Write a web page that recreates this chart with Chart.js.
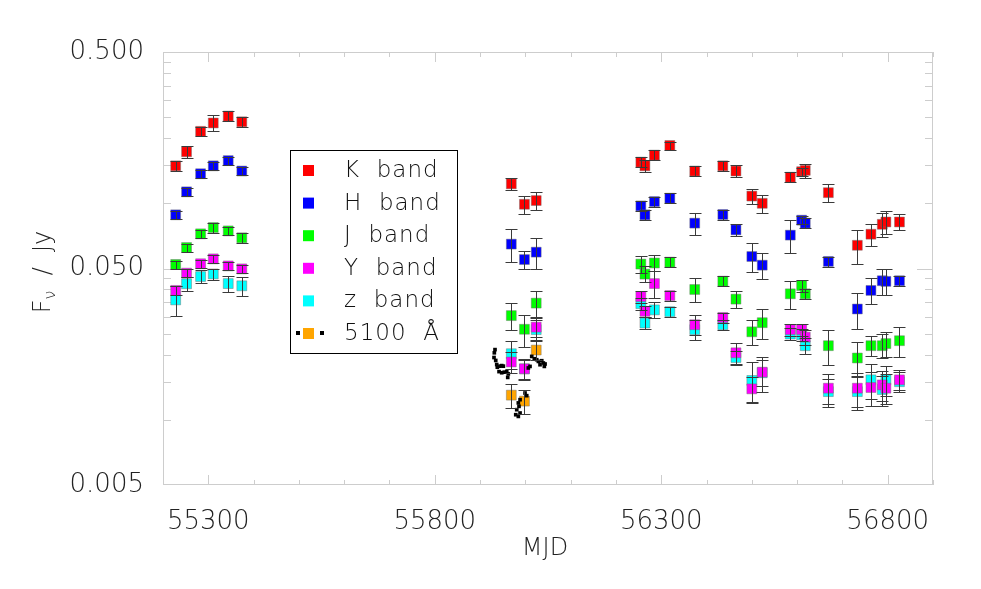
<!DOCTYPE html>
<html lang="en">
<head>
<meta charset="utf-8">
<title>NIR and optical light curves</title>
<script src="https://cdn.jsdelivr.net/npm/chart.js@4.4.0/dist/chart.umd.min.js"></script>
<style>
  html, body { margin: 0; padding: 0; background: #fff; }
  .chart-container { width: 981px; height: 589px; }
</style>
</head>
<body>
<div class="chart-container"><canvas id="lc-chart" width="981" height="589"></canvas></div>

<script>
/* NIR epochs (MJD) shared by the K, H, J, Y and z bands */
const mjdNIR = [55228, 55252, 55283, 55311, 55344, 55374,
                55969, 55998, 56024,
                56255, 56264, 56285, 56319, 56374, 56436, 56465, 56500, 56523,
                56585, 56610, 56618, 56669, 56733, 56763, 56788, 56796, 56826];

/* fluxes and errors in Jy */
const fluxK = [0.149, 0.173, 0.215, 0.235, 0.253, 0.238,
               0.123, 0.099, 0.103,
               0.155, 0.149, 0.167, 0.185, 0.141, 0.149, 0.141, 0.108, 0.100,
               0.132, 0.140, 0.142, 0.112, 0.064, 0.072, 0.080, 0.082, 0.082];
const errK  = [0.008, 0.011, 0.011, 0.020, 0.013, 0.013,
               0.008, 0.0095, 0.010,
               0.008, 0.0095, 0.009, 0.008, 0.0075, 0.008, 0.009, 0.009, 0.0095,
               0.007, 0.006, 0.0105, 0.0107, 0.0115, 0.0085, 0.010, 0.010, 0.007];

const fluxH = [0.0885, 0.113, 0.137, 0.149, 0.1575, 0.141,
               0.0648, 0.055, 0.0595,
               0.0973, 0.0885, 0.1019, 0.1056, 0.081, 0.0888, 0.0754, 0.0568, 0.0518,
               0.0713, 0.0836, 0.081, 0.0539, 0.0325, 0.0396, 0.0439, 0.0436, 0.0439];
const errH  = [0.0038, 0.0048, 0.0058, 0.0063, 0.0067, 0.006,
               0.0113, 0.0054, 0.0099,
               0.0052, 0.0047, 0.0054, 0.0056, 0.0095, 0.0047, 0.0048, 0.0085, 0.0072,
               0.0121, 0.0036, 0.0043, 0.0029, 0.0062, 0.0055, 0.0061, 0.006, 0.0023];

const fluxJ = [0.0522, 0.0625, 0.0723, 0.0773, 0.0746, 0.0693,
               0.0303, 0.0262, 0.0346,
               0.0524, 0.0471, 0.053, 0.0535, 0.040, 0.0437, 0.0361, 0.0255, 0.0281,
               0.0382, 0.0417, 0.0382, 0.022, 0.0193, 0.022, 0.022, 0.0225, 0.0232];
const errJ  = [0.0022, 0.0027, 0.0031, 0.0041, 0.0032, 0.0037,
               0.0044, 0.0044, 0.0046,
               0.0045, 0.004, 0.0045, 0.0028, 0.0051, 0.0023, 0.0031, 0.0033, 0.0045,
               0.0057, 0.0027, 0.002, 0.004, 0.0035, 0.0023, 0.0028, 0.0029, 0.0037];

const fluxY = [0.0396, 0.0476, 0.0526, 0.0554, 0.0514, 0.0498,
               0.0185, 0.0172, 0.0268,
               0.0371, 0.0317, 0.0426, 0.0375, 0.0275, 0.0297, 0.0204, 0.0139, 0.0166,
               0.0261, 0.0261, 0.0241, 0.014, 0.014, 0.0141, 0.0145, 0.014, 0.0153];
const errY  = [0.0017, 0.002, 0.0022, 0.0024, 0.0022, 0.0021,
               0.002, 0.0017, 0.0027,
               0.0024, 0.002, 0.0059, 0.002, 0.0029, 0.0016, 0.0022, 0.0018, 0.0023,
               0.0017, 0.0017, 0.002, 0.0022, 0.0025, 0.0025, 0.0023, 0.0022, 0.0016];

const fluxZ = [0.0358, 0.0425, 0.0459, 0.0472, 0.0426, 0.0416,
               0.0202, 0.0172, 0.0261,
               0.0344, 0.028, 0.0322, 0.0316, 0.0261, 0.0275, 0.0194, 0.0152, 0.0165,
               0.0249, 0.0247, 0.022, 0.0135, 0.0135, 0.0153, 0.0138, 0.0153, 0.015];
const errZ  = [0.0057, 0.003, 0.0032, 0.0028, 0.0038, 0.0042,
               0.003, 0.0019, 0.0028,
               0.0022, 0.0018, 0.0027, 0.0017, 0.0028, 0.0015, 0.0014, 0.0032, 0.003,
               0.0016, 0.0016, 0.0019, 0.002, 0.0024, 0.0028, 0.0022, 0.0024, 0.0016];

/* 5100 A host-corrected points */
const mjd5100  = [55969, 55998, 56024];
const flux5100 = [0.0130, 0.0122, 0.0210];
const err5100  = [0.0017, 0.0016, 0.0021];

/* 5100 A continuum light curve (small black dots) */
const mjdCont  = [55933, 55931.5, 55930.8, 55934.6, 55936.8, 55938.1, 55944.1, 55947.8, 55951.4,
                  55941.9, 55947.8, 55953.6, 55958.9, 55962.4, 55961.1,
                  55978.8, 55981, 55984.5, 55984.5, 55986, 55988.3, 55988.3, 55999.3, 56003,
                  56006.6, 56010.3, 56014.1, 56019.8, 56025.1, 56028.7, 56032.4, 56036.2,
                  56039.7, 56041.9, 56043.5];
const fluxCont = [0.0211, 0.0204, 0.0194, 0.0188, 0.0180, 0.0175, 0.0177, 0.0178, 0.0177,
                  0.0167, 0.0165, 0.0166, 0.0167, 0.0163, 0.0157,
                  0.01056, 0.01114, 0.01197, 0.01037, 0.01154, 0.01239, 0.01075, 0.0133, 0.01293,
                  0.01736, 0.01765, 0.01963, 0.01915, 0.01895, 0.01861, 0.01797, 0.01875,
                  0.0183, 0.01765, 0.01811];

const xTickLabels = [55300, 55800, 56300, 56800];
const yTickLabels = [0.005, 0.05, 0.5];

const FONT = "'DejaVu Sans', 'Liberation Sans', sans-serif";

function pts(xs, ys) {
  return xs.map((x, i) => ({ x: x, y: ys[i] }));
}

function band(label, color, ys, errs) {
  return {
    label: label,
    data: pts(mjdNIR, ys),
    errors: errs,
    pointStyle: 'rect',
    pointRadius: 7,
    pointBackgroundColor: color,
    pointBorderColor: 'rgba(110,110,110,0.45)',
    pointBorderWidth: 1,
    showLine: false
  };
}

/* frame + inward tick marks like the original plot */
const frameTicks = {
  id: 'frameTicks',
  beforeDatasetsDraw(chart) {
    const { ctx, chartArea: a, scales: { x, y } } = chart;
    ctx.save();
    ctx.strokeStyle = '#cdcdcd';
    ctx.lineWidth = 1;
    ctx.strokeRect(a.left + 0.5, a.top + 0.5, a.right - a.left - 1, a.bottom - a.top - 1);
    ctx.beginPath();
    for (let v = 55200; v <= 56900; v += 100) {
      const px = Math.round(x.getPixelForValue(v)) + 0.5;
      const len = (v % 500 === 300) ? 10 : 5;
      ctx.moveTo(px, a.bottom); ctx.lineTo(px, a.bottom - len);
      ctx.moveTo(px, a.top); ctx.lineTo(px, a.top + len);
    }
    const yMinor = [];
    for (let k = 2; k <= 9; k++) yMinor.push(0.005 * k);
    for (let k = 2; k <= 9; k++) yMinor.push(0.05 * k);
    yMinor.forEach(v => {
      const py = Math.round(y.getPixelForValue(v)) + 0.5;
      ctx.moveTo(a.left, py); ctx.lineTo(a.left + 8, py);
      ctx.moveTo(a.right, py); ctx.lineTo(a.right - 8, py);
    });
    const pyMajor = Math.round(y.getPixelForValue(0.05)) + 0.5;
    ctx.moveTo(a.left, pyMajor); ctx.lineTo(a.left + 16, pyMajor);
    ctx.moveTo(a.right, pyMajor); ctx.lineTo(a.right - 16, pyMajor);
    ctx.stroke();
    ctx.restore();
  }
};

/* vertical error bars with caps */
const errorBars = {
  id: 'errorBars',
  afterDatasetsDraw(chart) {
    const { ctx, scales: { y } } = chart;
    ctx.save();
    ctx.strokeStyle = '#3a3a3a';
    ctx.lineWidth = 1;
    chart.data.datasets.forEach((ds, i) => {
      if (!ds.errors) return;
      const meta = chart.getDatasetMeta(i);
      meta.data.forEach((el, j) => {
        const v = ds.data[j].y, e = ds.errors[j];
        const px = Math.round(el.x) + 0.5;
        const yt = Math.round(y.getPixelForValue(v + e)) + 0.5;
        const yb = Math.round(y.getPixelForValue(Math.max(v - e, 1e-4))) + 0.5;
        ctx.beginPath();
        ctx.moveTo(px, yt); ctx.lineTo(px, yb);
        ctx.moveTo(px - 6, yt); ctx.lineTo(px + 6, yt);
        ctx.moveTo(px - 6, yb); ctx.lineTo(px + 6, yb);
        ctx.stroke();
      });
    });
    ctx.restore();
  }
};

/* boxed legend, axis titles */
const annotations = {
  id: 'annotations',
  afterDraw(chart) {
    const { ctx } = chart;
    ctx.save();
    // legend box
    ctx.fillStyle = '#fff';
    ctx.fillRect(290, 150, 167, 203);
    ctx.strokeStyle = '#000';
    ctx.lineWidth = 1;
    ctx.strokeRect(290.5, 150.5, 167, 203);
    const items = chart.data.datasets.filter(d => d.legendText);
    items.forEach((ds, k) => {
      const cy = 170 + k * 32.6;
      ctx.fillStyle = ds.pointBackgroundColor;
      ctx.fillRect(303, cy - 5, 11, 11);
      if (ds.legendDots) {
        ctx.fillStyle = '#000';
        ctx.fillRect(296, cy - 2, 4, 4);
        ctx.fillRect(320, cy - 2, 4, 4);
      }
      ctx.fillStyle = '#111';
      ctx.font = '200 23px ' + FONT;
      ctx.letterSpacing = '1px';
      ctx.textBaseline = 'middle';
      ctx.textAlign = 'left';
      ctx.fillText(ds.legendText, 344, cy + 1);
    });
    ctx.letterSpacing = '0px';
    // x title
    ctx.fillStyle = '#222';
    ctx.font = '200 24px ' + FONT;
    ctx.textAlign = 'center';
    ctx.textBaseline = 'middle';
    ctx.fillText('MJD', 545, 549);
    // y title, rotated: F with subscript nu
    ctx.translate(42, 272);
    ctx.rotate(-Math.PI / 2);
    ctx.textAlign = 'left';
    ctx.textBaseline = 'alphabetic';
    const f1 = '200 24px ' + FONT, f2 = '200 16px ' + FONT;
    ctx.font = f1; const wF = ctx.measureText('F').width;
    ctx.font = f2; const wNu = ctx.measureText('\u03BD').width;
    ctx.font = f1; const wRest = ctx.measureText('  /  Jy').width;
    let sx = -(wF + wNu + wRest) / 2;
    ctx.font = f1; ctx.fillText('F', sx, 8); sx += wF;
    ctx.font = f2; ctx.fillText('\u03BD', sx, 13); sx += wNu;
    ctx.font = f1; ctx.fillText('  /  Jy', sx, 8);
    ctx.restore();
  }
};

const datasets = [
  {
    label: '5100 A continuum',
    data: pts(mjdCont, fluxCont),
    pointStyle: 'rect',
    pointRadius: 2.6,
    pointBackgroundColor: '#000',
    pointBorderWidth: 0,
    showLine: false
  },
  Object.assign(band('K band', '#ff0000', fluxK, errK), { legendText: 'K  band' }),
  Object.assign(band('H band', '#0000ff', fluxH, errH), { legendText: 'H  band' }),
  Object.assign(band('J band', '#00ff00', fluxJ, errJ), { legendText: 'J  band' }),
  Object.assign(band('Y band', '#ff00ff', fluxY, errY), { legendText: 'Y  band' }),
  Object.assign(band('z band', '#00ffff', fluxZ, errZ), { legendText: 'z  band' }),
  {
    label: '5100 \u00C5',
    legendText: '5100  \u00C5',
    legendDots: true,
    data: pts(mjd5100, flux5100),
    errors: err5100,
    pointStyle: 'rect',
    pointRadius: 7,
    pointBackgroundColor: '#ffa500',
    pointBorderColor: 'rgba(110,110,110,0.45)',
    pointBorderWidth: 1,
    showLine: false
  }
];

new Chart(document.getElementById('lc-chart'), {
  type: 'scatter',
  data: { datasets: datasets },
  options: {
    responsive: false,
    animation: false,
    layout: { padding: { top: 52, right: 48, left: 0, bottom: 0 } },
    plugins: { legend: { display: false }, tooltip: { enabled: false } },
    scales: {
      x: {
        type: 'linear',
        min: 55200,
        max: 56900,
        grid: { display: false },
        border: { display: false },
        afterBuildTicks: s => { s.ticks = xTickLabels.map(v => ({ value: v })); },
        afterFit: s => { s.height = 104; },
        ticks: {
          padding: 14,
          maxRotation: 0,
          color: '#222',
          font: { family: FONT, size: 26, weight: 200 },
          callback: v => String(v)
        }
      },
      y: {
        type: 'logarithmic',
        min: 0.005,
        max: 0.5,
        grid: { display: false },
        border: { display: false },
        afterBuildTicks: s => { s.ticks = yTickLabels.map(v => ({ value: v })); },
        afterFit: s => { s.width = 163; },
        ticks: {
          padding: 11,
          color: '#222',
          font: { family: FONT, size: 26, weight: 200 },
          callback: v => Number(v).toFixed(3)
        }
      }
    }
  },
  plugins: [frameTicks, errorBars, annotations]
});
</script>
</body>
</html>
